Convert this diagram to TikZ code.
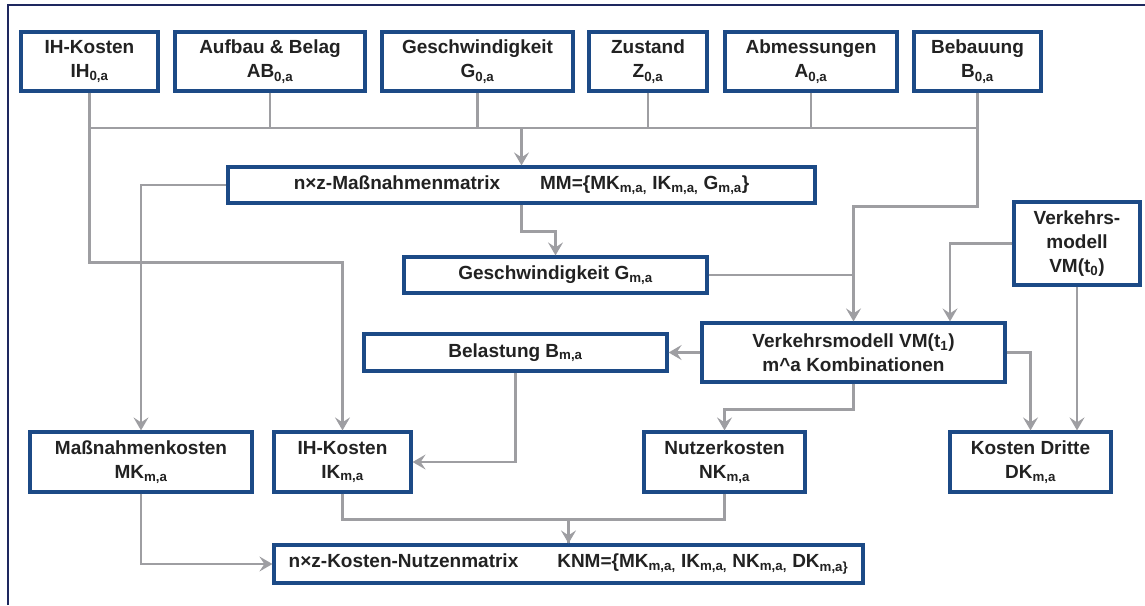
\documentclass[tikz,border=0pt]{standalone}
\usepackage{fontspec}
\setmainfont{Liberation Sans}
\usetikzlibrary{arrows.meta,positioning,calc}
\definecolor{boxblue}{RGB}{28,74,134}
\definecolor{framenavy}{RGB}{30,40,95}
\definecolor{linegray}{RGB}{158,158,162}
\definecolor{txtgray}{RGB}{34,34,34}
\newcommand{\idx}[1]{\textsubscript{#1}}

\begin{document}
\begin{tikzpicture}[
  x=1pt, y=-1pt,
  font=\bfseries\fontsize{19}{24}\selectfont,
  blk/.style={draw=boxblue, line width=3.2pt, fill=white, align=center,
              inner sep=0pt, text=txtgray},
  conn/.style={draw=linegray, line width=2.9pt},
  arrow/.style={conn, -{Stealth[length=13pt, width=15pt, inset=5pt]}}
]
\useasboundingbox (0,0) rectangle (1145,605);

% Frame
\draw[framenavy, line width=2.8pt] (8,605) -- (8,5) -- (1145,5);

% Top row
\node[blk, minimum width=137, minimum height=59] (ih0) at (89.5,61.5)
  {IH-Kosten\\ IH\idx{0,a}};
\node[blk, minimum width=190, minimum height=59] (ab0) at (270,61.5)
  {Aufbau \& Belag\\ AB\idx{0,a}};
\node[blk, minimum width=191, minimum height=59] (g0) at (477.5,61.5)
  {Geschwindigkeit\\ G\idx{0,a}};
\node[blk, minimum width=118, minimum height=59] (z0) at (648,61.5)
  {Zustand\\ Z\idx{0,a}};
\node[blk, minimum width=172, minimum height=59] (a0) at (811,61.5)
  {Abmessungen\\ A\idx{0,a}};
\node[blk, minimum width=127, minimum height=59] (b0) at (977.5,61.5)
  {Bebauung\\ B\idx{0,a}};

% Middle
\node[blk, minimum width=587, minimum height=36] (mm) at (521.5,185)
  {n×z-Maßnahmenmatrix\hspace{40pt}MM=\{MK\idx{m,a,} IK\idx{m,a,} G\idx{m,a}\}};
\node[blk, minimum width=303, minimum height=36] (gm) at (555.5,275)
  {Geschwindigkeit G\idx{m,a}};
\node[blk, minimum width=126, minimum height=83] (vm0) at (1077,243.5)
  {Verkehrs-\\ modell\\ VM(t\idx{0})};
\node[blk, minimum width=303, minimum height=37] (bm) at (515.5,352.5)
  {Belastung B\idx{m,a}};
\node[blk, minimum width=303, minimum height=59] (vm1) at (853.5,352.5)
  {Verkehrsmodell VM(t\idx{1})\\ m\textasciicircum a Kombinationen};

% Cost boxes
\node[blk, minimum width=222, minimum height=60] (mk) at (141,462)
  {Maßnahmenkosten\\ MK\idx{m,a}};
\node[blk, minimum width=137, minimum height=60] (ik) at (342.5,462)
  {IH-Kosten\\ IK\idx{m,a}};
\node[blk, minimum width=161, minimum height=60] (nk) at (724.5,462)
  {Nutzerkosten\\ NK\idx{m,a}};
\node[blk, minimum width=161, minimum height=60] (dk) at (1030.5,462)
  {Kosten Dritte\\ DK\idx{m,a}};
\node[blk, minimum width=589, minimum height=38] (knm) at (568.5,564)
  {n×z-Kosten-Nutzenmatrix\hspace{39pt}KNM=\{MK\idx{m,a,} IK\idx{m,a,} NK\idx{m,a,} DK\idx{m,a\}}};

% Input bus
\coordinate (bus) at (0,128);
\foreach \n in {ab0,g0,z0,a0,b0}
  \draw[conn] (\n.south) -- (\n.south |- bus);
\draw[conn] (ih0.south |- bus) -- (b0.south |- bus);
\draw[arrow] (mm.north |- bus) -- (mm.north);

% Matrix outputs
\draw[arrow] (ih0.south) -- ++(0,170) -| (ik.north);
\draw[arrow] (mm.west) -| (mk.north);
\draw[arrow] (mm.south) -- ++(0,27) -| (gm.north);

% Traffic model
\draw[arrow] (b0.south) -- ++(0,114) -| (vm1.north);
\draw[conn] (gm.east) -- (vm1.north |- gm.east);
\draw[arrow] (vm0.west) -| ($(vm1.north)+(96.5,0)$);
\draw[arrow] (vm0.south) -- (vm0.south |- dk.north);
\draw[arrow] (vm1.west) -- (bm.east);
\draw[arrow] (vm1.east) -| (dk.north);
\draw[arrow] (vm1.south) -- ++(0,26) -| (nk.north);
\draw[arrow] (bm.south) |- (ik.east);

% Cost-benefit matrix
\draw[arrow] (mk.south) |- (knm.west);
\draw[arrow] (ik.south) -- ++(0,26) -| (knm.north);
\draw[conn] (nk.south) -- ++(0,26) -| (knm.north);
\end{tikzpicture}
\end{document}
